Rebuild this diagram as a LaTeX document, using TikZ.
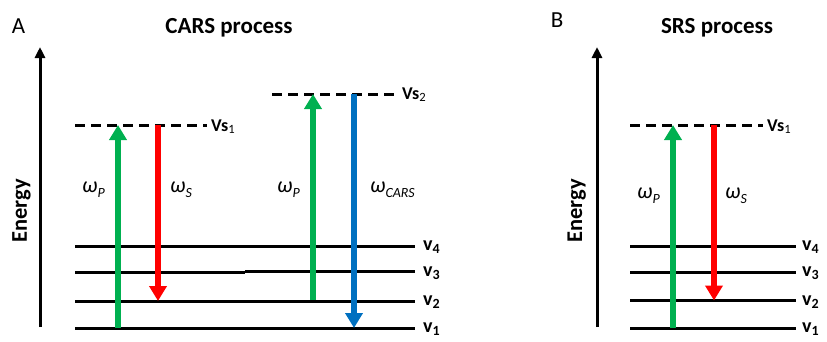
\documentclass[tikz,border=0pt]{standalone}
\usepackage{fontspec}
\setmainfont{Carlito}
\usetikzlibrary{arrows.meta}
\definecolor{pgreen}{RGB}{0,176,80}
\definecolor{pred}{RGB}{255,0,0}
\definecolor{pblue}{RGB}{0,112,192}
\newcommand{\vlab}[1]{\fontsize{20}{22}\selectfont\bfseries v\textsubscript{#1}}
\newcommand{\vslab}[1]{\fontsize{18}{20}\selectfont\textbf{Vs}\textsubscript{#1}}
\newcommand{\omlab}[1]{\fontsize{22}{26}\selectfont\textit{ω}\raisebox{-0.5ex}{\fontsize{14}{16}\selectfont\textit{#1}}}
\begin{document}
\begin{tikzpicture}[x=1pt,y=-1pt,
  lvl/.style={line width=3pt},
  virt/.style={line width=3pt, dash pattern=on 10pt off 6pt},
  axis/.style={line width=3pt,-{Triangle[width=10pt,length=11pt]}},
  beam/.style={line width=6pt,-{Triangle[width=17pt,length=15pt]}},
  lbl/.style={inner sep=0pt,anchor=base west},
  ttl/.style={inner sep=0pt,anchor=base,font=\fontsize{23}{27}\selectfont\bfseries},
  pan/.style={inner sep=0pt,anchor=base,font=\fontsize{23}{27}\selectfont},
  en/.style={inner sep=0pt,anchor=base,rotate=90,font=\fontsize{22.5}{26}\selectfont\bfseries}]
\useasboundingbox (0,0) rectangle (827,341);

% ---------- Panel A ----------
\node[pan] (pA) at (18.5,33) {A};
\node[ttl] (tA) at (229,33) {CARS process};
\coordinate (eA0) at (40,327);
\coordinate (eA1) at (40,47);
\draw[axis] (eA0) -- (eA1);
\node[en] (enA) at (27,211) {Energy};

% levels
\coordinate (a4l) at (75,246); \coordinate (a4r) at (415,246);
\coordinate (a3l) at (75,272.5); \coordinate (a3m) at (245,272.5);
\coordinate (a3n) at (245,271.5); \coordinate (a3r) at (415,271.5);
\coordinate (a2l) at (75,301); \coordinate (a2r) at (415,301);
\coordinate (a1l) at (75,328); \coordinate (a1r) at (415,328);
\draw[lvl] (a4l) -- (a4r);
\draw[lvl] (a3l) -- (a3m);
\draw[lvl] (a3n) -- (a3r);
\draw[lvl] (a2l) -- (a2r);
\draw[lvl] (a1l) -- (a1r);
\node[lbl] (va4) at (423,250.5) {\vlab{4}};
\node[lbl] (va3) at (423,276.5) {\vlab{3}};
\node[lbl] (va2) at (423,305.5) {\vlab{2}};
\node[lbl] (va1) at (423,332.5) {\vlab{1}};

% virtual levels
\coordinate (s1l) at (75,125); \coordinate (s1r) at (207,125);
\draw[virt] (s1l) -- (s1r);
\node[lbl] (vs1) at (211,131) {\vslab{1}};
\coordinate (s2l) at (272,94); \coordinate (s2r) at (400,94);
\draw[virt] (s2l) -- (s2r);
\node[lbl] (vs2) at (402,99) {\vslab{2}};

% beams
\coordinate (gA0) at (118,328); \coordinate (gA1) at (118,125);
\draw[beam,pgreen] (gA0) -- (gA1);
\coordinate (rA0) at (158,125); \coordinate (rA1) at (158,301);
\draw[beam,pred] (rA0) -- (rA1);
\coordinate (gB0) at (313,300); \coordinate (gB1) at (313,94);
\draw[beam,pgreen] (gB0) -- (gB1);
\coordinate (bA0) at (354,94); \coordinate (bA1) at (354,328);
\draw[beam,pblue] (bA0) -- (bA1);

\node[lbl] (wp1) at (82,192) {\omlab{P}};
\node[lbl] (ws1) at (170,192) {\omlab{S}};
\node[lbl] (wp2) at (277,192) {\omlab{P}};
\node[lbl] (wc) at (370,192) {\omlab{CARS}};

% ---------- Panel B ----------
\node[pan] (pB) at (557,27) {B};
\node[ttl] (tB) at (717,33) {SRS process};
\coordinate (eB0) at (597,327);
\coordinate (eB1) at (597,47);
\draw[axis] (eB0) -- (eB1);
\node[en] (enB) at (582,211) {Energy};

\coordinate (b4l) at (630,246); \coordinate (b4r) at (796,246);
\coordinate (b3l) at (630,272); \coordinate (b3r) at (796,272);
\coordinate (b2l) at (630,300.5); \coordinate (b2r) at (796,300.5);
\coordinate (b1l) at (630,328); \coordinate (b1r) at (796,328);
\draw[lvl] (b4l) -- (b4r);
\draw[lvl] (b3l) -- (b3r);
\draw[lvl] (b2l) -- (b2r);
\draw[lvl] (b1l) -- (b1r);
\node[lbl] (vb4) at (802,250.5) {\vlab{4}};
\node[lbl] (vb3) at (802,276.5) {\vlab{3}};
\node[lbl] (vb2) at (802,305.5) {\vlab{2}};
\node[lbl] (vb1) at (802,332.5) {\vlab{1}};

\coordinate (t1l) at (630,125); \coordinate (t1r) at (763,125);
\draw[virt] (t1l) -- (t1r);
\node[lbl] (vs1b) at (767,131) {\vslab{1}};

\coordinate (gC0) at (673,328); \coordinate (gC1) at (673,125);
\draw[beam,pgreen] (gC0) -- (gC1);
\coordinate (rC0) at (714,125); \coordinate (rC1) at (714,300.5);
\draw[beam,pred] (rC0) -- (rC1);

\node[lbl] (wp3) at (637,198) {\omlab{P}};
\node[lbl] (ws3) at (725,198) {\omlab{S}};
\end{tikzpicture}
\end{document}
